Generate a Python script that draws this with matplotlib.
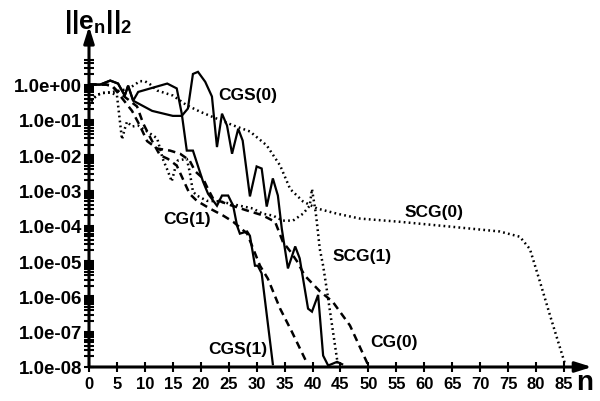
import matplotlib
matplotlib.use("Agg")
import matplotlib.pyplot as plt

# ---- data (iteration n, error norm) ----
cgs0_n = [0, 2, 3.8, 5.2, 6.4, 7.0, 7.9, 11.3, 15.0, 16.6, 17.7, 18.6, 19.5, 20.8, 22.0, 22.9, 23.8, 24.7,
          25.6, 26.7, 27.5, 28.8, 30.0, 30.9, 31.8, 32.9, 33.8, 34.5, 35.6, 36.9, 37.7, 39.2, 39.9, 41.0,
          41.9, 42.8, 44.4, 45.3]
cgs0_e = [1.0, 1.0, 1.3, 1.07, 0.49, 0.93, 0.35, 0.18, 0.13, 0.13, 0.21, 2.0, 2.3, 1.2, 0.46, 1.7e-2, 0.15, 6.9e-2,
          1.1e-2, 5.6e-2, 2.6e-2, 6.8e-4, 4.8e-3, 4.2e-3, 3.5e-4, 2.2e-3, 7.2e-4, 8.3e-5, 6.2e-6, 2.6e-5, 1.2e-5,
          4.5e-7, 3.7e-7, 1.1e-6, 2.1e-8, 1.1e-8, 1.4e-8, 1.2e-8]

cgs1_n = [0, 2, 3.8, 5.2, 6.4, 7.0, 7.9, 8.8, 14.0, 15.7, 16.6, 17.5, 18.6, 20.4, 21.3, 22.9, 23.8, 24.9,
          25.8, 26.5, 27.0, 28.3, 28.8, 29.7, 30.2, 30.9, 32.9]
cgs1_e = [1.0, 1.0, 1.3, 1.07, 0.49, 0.93, 0.35, 0.62, 1.07, 0.78, 0.15, 1.35e-2, 1.35e-2, 1.8e-3, 8.1e-4, 3.7e-4,
          7.2e-4, 7.2e-4, 3.7e-4, 1.0e-4, 6.0e-5, 6.9e-5, 5.2e-5, 7.4e-6, 7.4e-6, 4.5e-6, 1.2e-8]

cg0_n = [0, 3, 4.1, 5.0, 7.7, 9.1, 10.4, 12.2, 14.5, 16.3, 18.0, 19.0, 20.4, 21.3, 22.2, 25.0, 28.0, 31.0,
         33.3, 34.7, 36.0, 37.2, 38.6, 41.3, 43.6, 46.7, 50.0]
cg0_e = [1.0, 1.0, 0.93, 0.63, 0.18, 6.9e-2, 2.5e-2, 1.55e-2, 1.35e-2, 1.1e-2, 7.1e-3, 3.5e-3, 2.2e-3, 1.1e-3,
         5.9e-4, 4.0e-4, 2.8e-4, 2.0e-4, 1.3e-4, 3.5e-5, 1.9e-5, 1.0e-5, 3.9e-6, 1.4e-6, 7.1e-7, 1.5e-7, 1.1e-8]

cg1_n = [0, 3, 4.1, 5.2, 6.8, 8.6, 9.7, 11.3, 12.7, 14.1, 15.7, 18.0, 19.3, 21.6, 24.0, 25.8, 28.3, 30.6,
         32.0, 34.2, 36.3, 39.0]
cg1_e = [1.0, 1.0, 0.93, 0.63, 0.4, 0.24, 7.9e-2, 2.5e-2, 1.0e-2, 7.9e-3, 5.1e-3, 8.1e-4, 5.1e-4, 3.1e-4,
         1.95e-4, 1.3e-4, 6.0e-5, 7.4e-6, 3.2e-6, 4.5e-7, 1.0e-7, 1.3e-8]

scg0_n = [0, 0.7, 1.6, 2.5, 3.8, 7.0, 8.0, 9.1, 10.0, 11.0, 12.2, 15.0, 17.5, 19.9, 22.2, 25.8, 28.8, 31.8,
          34.2, 36.0, 38.3, 40.8, 44.4, 48.5, 55.6, 64.6, 73.5, 77.1, 78.9, 80.7, 82.5, 85.2]
scg0_e = [0.25, 0.4, 0.52, 0.58, 0.6, 0.75, 0.95, 1.25, 1.25, 1.0, 0.68, 0.49, 0.26, 0.17, 0.12, 7.0e-2, 4.7e-2,
          1.9e-2, 5.1e-3, 1.1e-3, 4.9e-4, 3.1e-4, 2.2e-4, 1.6e-4, 1.3e-4, 9.5e-5, 6.9e-5, 4.9e-5, 2.2e-5,
          2.6e-6, 2.9e-7, 1.2e-8]

scg1_n = [0, 0.7, 1.6, 2.5, 3.8, 5.0, 5.9, 6.4, 6.8, 7.7, 8.8, 10.4, 12.2, 13.2, 14.1, 14.8, 15.4, 15.9, 17.5,
          18.0, 18.6, 19.3, 21.1, 23.4, 27.0, 29.3, 31.1, 32.9, 34.7, 36.5, 38.3, 39.5, 39.9, 40.6, 41.0, 41.3,
          41.9, 42.6, 43.5, 44.5]
scg1_e = [0.25, 0.4, 0.52, 0.58, 0.6, 0.5, 2.8e-2, 5.6e-2, 8.9e-2, 6.5e-2, 6.9e-2, 4.7e-2, 3.0e-2, 7.9e-3, 3.6e-3,
          1.8e-3, 4.2e-3, 7.1e-3, 7.9e-3, 3.5e-3, 9.3e-4, 7.2e-4, 5.1e-4, 4.9e-4, 3.7e-4, 3.1e-4, 2.2e-4, 1.95e-4,
          1.4e-4, 1.4e-4, 2.2e-4, 3.7e-4, 1.1e-3, 2.2e-4, 6.0e-5, 2.2e-5, 7.4e-6, 1.4e-6, 1.5e-7, 1.26e-8]

x_ticks = list(range(0, 90, 5))
y_ticks = [1e0, 1e-1, 1e-2, 1e-3, 1e-4, 1e-5, 1e-6, 1e-7, 1e-8]
y_tick_labels = ["1.0e+00", "1.0e-01", "1.0e-02", "1.0e-03", "1.0e-04",
                 "1.0e-05", "1.0e-06", "1.0e-07", "1.0e-08"]

labels = ["CGS(0)", "CGS(1)", "CG(0)", "CG(1)", "SCG(0)", "SCG(1)"]
label_pos = [(23.1, 0.52), (21.3, 3.3e-8), (50.3, 5.2e-8), (13.2, 1.6e-4), (56.5, 2.5e-4), (43.5, 1.4e-5)]

# ---- figure ----
W, H = 600, 402
fig = plt.figure(figsize=(W / 100, H / 100), dpi=100)
px_per_n = 5.588
px_per_dec = 35.3
ytop = 1.65
ax = fig.add_axes([89 / W, (H - 368) / H, px_per_n * 90 / W, px_per_dec * (8 + ytop) / H])
ax.set_yscale("log")
ax.set_xlim(0, 90)
ax.set_ylim(1e-8, 10 ** ytop)
for s in ax.spines.values():
    s.set_visible(False)
ax.patch.set_visible(False)

k = "black"
ax.plot(cgs0_n, cgs0_e, color=k, lw=1.6, solid_joinstyle="miter")
ax.plot(cgs1_n, cgs1_e, color=k, lw=1.6, solid_joinstyle="miter")
ax.plot(cg0_n, cg0_e, color=k, lw=1.8, linestyle=(0, (3, 2)))
ax.plot(cg1_n, cg1_e, color=k, lw=1.8, linestyle=(0, (3, 2)))
ax.plot(scg0_n, scg0_e, color=k, lw=1.8, linestyle=(0, (0.7, 1.3)))
ax.plot(scg1_n, scg1_e, color=k, lw=1.8, linestyle=(0, (0.7, 1.3)))

# axes arrows
arrow = dict(arrowstyle="-|>,head_length=0.7,head_width=0.22", lw=2.2, color=k,
             mutation_scale=14, shrinkA=0, shrinkB=0)
ax.annotate("", xy=(0, 10 ** ytop), xytext=(0, 1e-8), arrowprops=arrow, annotation_clip=False)
ax.annotate("", xy=(90, 1e-8), xytext=(0, 1e-8), arrowprops=arrow, annotation_clip=False)

# ticks
ax.set_xticks(x_ticks)
ax.set_xticklabels([str(t) for t in x_ticks], fontfamily="Liberation Sans", fontweight="bold", fontsize=12)
ax.set_yticks(y_ticks)
ax.set_yticklabels(y_tick_labels, fontfamily="Liberation Sans", fontweight="bold", fontsize=13.5)
minor = []
for d in range(-8, 1):
    for m in range(2, 10):
        v = m * 10.0 ** d
        if d == 0 and m > 5:
            continue
        minor.append(v)
ax.set_yticks(minor, minor=True)
ax.yaxis.set_minor_formatter(matplotlib.ticker.NullFormatter())
ax.tick_params(axis="y", which="both", direction="inout", length=7, width=1.5, pad=1.5, right=False)
ax.tick_params(axis="x", which="both", direction="inout", length=7, width=1.5, pad=3, top=False)
ax.xaxis.set_minor_locator(matplotlib.ticker.NullLocator())

# curve labels
for t, (xn, yv) in zip(labels, label_pos):
    ax.text(xn, yv, t, fontfamily="Liberation Sans", fontweight="bold", fontsize=12.5,
            ha="left", va="center", color=k)

# axis labels
plt.rcParams["mathtext.fontset"] = "custom"
plt.rcParams["mathtext.rm"] = "Liberation Sans:bold"
plt.rcParams["mathtext.it"] = "Liberation Sans:bold"
plt.rcParams["mathtext.bf"] = "Liberation Sans:bold"
fig.text(64 / W, 1 - 22 / H, r"$||\mathrm{e}_\mathrm{n}||_2$", fontsize=19, ha="left", va="center")
fig.text(576 / W, 1 - 383 / H, "n", fontfamily="Liberation Sans", fontweight="bold", fontsize=20,
         ha="left", va="center")

fig.savefig("out.png", dpi=100)
